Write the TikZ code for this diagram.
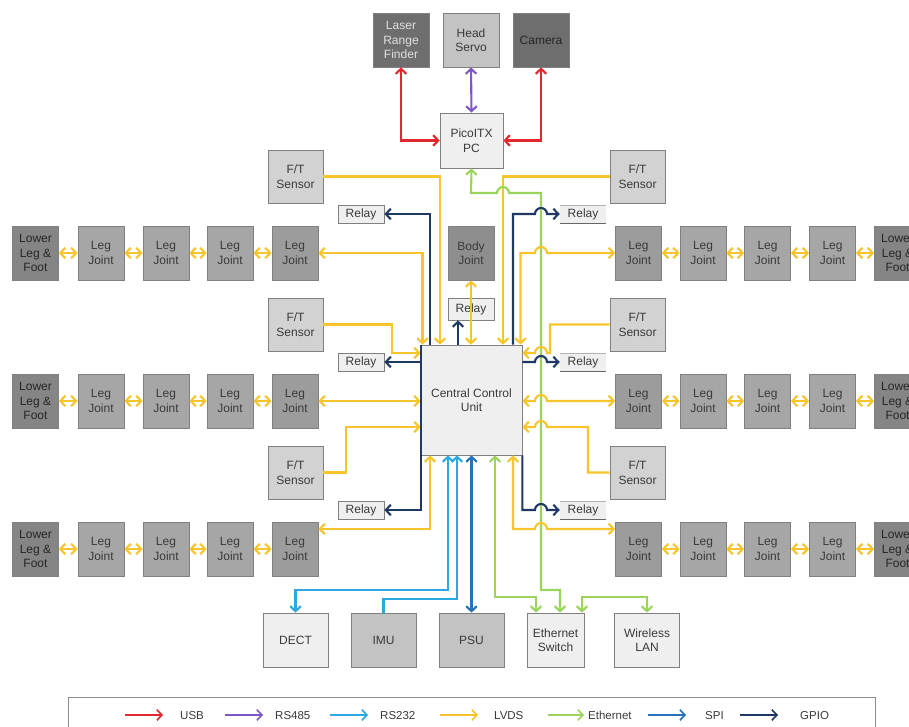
\documentclass[tikz,border=0pt]{standalone}
\usepackage{fontspec}
\setmainfont{Liberation Sans}
\usetikzlibrary{arrows.meta}

\definecolor{cUSB}{HTML}{E0282E}
\definecolor{cRSfour}{HTML}{7E57C2}
\definecolor{cRStwo}{HTML}{2BA9E0}
\definecolor{cLVDS}{HTML}{F7C52B}
\definecolor{cEth}{HTML}{9BD45A}
\definecolor{cSPI}{HTML}{2673B8}
\definecolor{cGPIO}{HTML}{1F3864}
\definecolor{txt}{HTML}{3A3A3A}
\definecolor{fDark}{HTML}{6E6E6E}
\definecolor{fMid}{HTML}{C3C3C3}
\definecolor{fLight}{HTML}{EFEFEF}
\definecolor{fSensor}{HTML}{D2D2D2}
\definecolor{fJoint}{HTML}{A6A6A6}
\definecolor{fJointIn}{HTML}{9C9C9C}
\definecolor{fLower}{HTML}{858585}
\definecolor{fBody}{HTML}{8E8E8E}

\newcommand\boxfont{\fontsize{12}{14.5}\selectfont}
\newcommand\legfont{\fontsize{11.5}{13}\selectfont}

\tikzset{
  box/.style={draw=black!50, line width=0.7pt, align=center, font=\boxfont,
    text=txt, inner sep=0pt, minimum width=46pt, minimum height=54pt},
  relaybox/.style={box, fill=fLight, minimum height=18pt},
  relayopen/.style={align=center, font=\boxfont, text=txt, inner sep=0pt,
    fill=fLight, minimum width=46pt, minimum height=18pt},
  wire/.style={line width=2.1pt},
  usb/.style={wire, draw=cUSB},
  rsfour/.style={wire, draw=cRSfour},
  rstwo/.style={wire, draw=cRStwo},
  lvds/.style={wire, draw=cLVDS},
  eth/.style={wire, draw=cEth},
  spi/.style={wire, draw=cSPI},
  gpio/.style={wire, draw=cGPIO},
  legtext/.style={font=\legfont, text=txt, anchor=base west, inner sep=0pt},
}

\begin{document}
\begin{tikzpicture}[x=1pt, y=-1pt, >={Straight Barb[length=5pt,width=10.5pt]}]
\useasboundingbox (0,0) rectangle (909,726);
\fill[white] (0,0) rectangle (909,726);
\clip (0,0) rectangle (909,726);

% ---------- head ----------
\node[box, fill=fDark, minimum width=56pt, text=black!12] (laser) at (401,40) {Laser\\Range\\Finder};
\node[box, fill=fMid, minimum width=56pt] (servo) at (471,40) {Head\\Servo};
\node[box, fill=fDark, minimum width=56pt, text=black!85] (camera) at (541,40) {Camera};
\node[box, fill=fLight, minimum width=63pt, minimum height=55pt] (pc) at (471.5,140.5) {PicoITX\\PC};

% ---------- central unit ----------
\node[box, fill=fLight, minimum width=101pt, minimum height=110pt] (ccu) at (471.5,400) {Central Control\\Unit};

% ---------- force/torque sensors ----------
\node[box, fill=fSensor, minimum width=55pt, minimum height=53pt] (ftLa) at (295.5,176.5) {F/T\\Sensor};
\node[box, fill=fSensor, minimum width=55pt, minimum height=53pt] (ftLb) at (295.5,324.5) {F/T\\Sensor};
\node[box, fill=fSensor, minimum width=55pt, minimum height=53pt] (ftLc) at (295.5,472.5) {F/T\\Sensor};
\node[box, fill=fSensor, minimum width=55pt, minimum height=53pt] (ftRa) at (637.5,176.5) {F/T\\Sensor};
\node[box, fill=fSensor, minimum width=55pt, minimum height=53pt] (ftRb) at (637.5,324.5) {F/T\\Sensor};
\node[box, fill=fSensor, minimum width=55pt, minimum height=53pt] (ftRc) at (637.5,472.5) {F/T\\Sensor};

% ---------- body joint and relays ----------
\node[box, fill=fBody] (body) at (471,253) {Body\\Joint};
\node[relaybox, minimum height=22pt] (relC) at (471,309) {Relay};
\node[relaybox] (relLa) at (361,214) {Relay};
\node[relaybox] (relLb) at (361,362) {Relay};
\node[relaybox] (relLc) at (361,510) {Relay};
\node[relayopen] (relRa) at (583,214) {Relay};
\node[relayopen] (relRb) at (583,362) {Relay};
\node[relayopen] (relRc) at (583,510) {Relay};
\foreach \n in {relRa,relRb,relRc}{
  \draw[black!30, line width=0.6pt] (\n.north west) -- (\n.north east);
  \draw[black!60, line width=0.8pt] (\n.south west) -- (\n.south east);
}

% ---------- legs ----------
\foreach \r/\y in {1/253,2/401,3/549}{
  \node[box, fill=fLower, text=black!85] (lowL\r) at (35.5,\y) {Lower\\Leg \&\\Foot};
  \node[box, fill=fJoint] (jLa\r) at (101,\y) {Leg\\Joint};
  \node[box, fill=fJoint] (jLb\r) at (166,\y) {Leg\\Joint};
  \node[box, fill=fJoint] (jLc\r) at (230,\y) {Leg\\Joint};
  \node[box, fill=fJointIn] (jLd\r) at (295,\y) {Leg\\Joint};
  \node[box, fill=fJointIn] (jRd\r) at (638.5,\y) {Leg\\Joint};
  \node[box, fill=fJoint] (jRc\r) at (703,\y) {Leg\\Joint};
  \node[box, fill=fJoint] (jRb\r) at (767.5,\y) {Leg\\Joint};
  \node[box, fill=fJoint] (jRa\r) at (832.5,\y) {Leg\\Joint};
  \node[box, fill=fLower, text=black!85] (lowR\r) at (897.5,\y) {Lower\\Leg \&\\Foot};
  \draw[lvds,<->] (lowL\r) -- (jLa\r);
  \draw[lvds,<->] (jLa\r) -- (jLb\r);
  \draw[lvds,<->] (jLb\r) -- (jLc\r);
  \draw[lvds,<->] (jLc\r) -- (jLd\r);
  \draw[lvds,<->] (jRd\r) -- (jRc\r);
  \draw[lvds,<->] (jRc\r) -- (jRb\r);
  \draw[lvds,<->] (jRb\r) -- (jRa\r);
  \draw[lvds,<->] (jRa\r) -- (lowR\r);
}

% ---------- bottom devices ----------
\node[box, fill=fLight, minimum width=65pt] (dect) at (295.5,640) {DECT};
\node[box, fill=fMid, minimum width=65pt] (imu) at (383.5,640) {IMU};
\node[box, fill=fMid, minimum width=65pt] (psu) at (471.5,640) {PSU};
\node[box, fill=fLight, minimum width=57pt] (switch) at (555.5,640) {Ethernet\\Switch};
\node[box, fill=fLight, minimum width=65pt] (wlan) at (647,640) {Wireless\\LAN};

% ---------- head links ----------
\draw[usb,<->] (laser.south) |- (pc.west);
\draw[usb,<->] (camera.south) |- (pc.east);
\draw[rsfour,<->] (servo.south) -- (pc.north);

% ---------- links above the central unit ----------
\draw[lvds,->] (ftLa.east) -| (ccu.north -| 440,0);
\draw[gpio,->] (ccu.north -| 430,0) |- (relLa.east);
\draw[lvds,<->] (jLd1.east) -| (ccu.north -| 422.5,0);
\draw[lvds,<->] (body.south) -- (ccu.north -| body.south);
\draw[gpio,->] (ccu.north -| 458,0) -- (relC.south -| 458,0);
\draw[lvds,->] (ftRa.west) -| (ccu.north -| 503,0);

% ethernet from the PC to the switch, hopping the sensor line
\draw[eth,<->] (pc.south) -- (471,193) -- (497,193)
  arc[start angle=180, end angle=0, radius=6pt] -- (541,193) -- (541,590)
  -| (switch.north -| 560,0);

\draw[gpio,->] (ccu.north -| 513,0) |- (535,214)
  arc[start angle=180, end angle=0, radius=6pt] -- (relRa.west);
\draw[lvds,<->] (ccu.north -| 520.5,0) |- (535,253)
  arc[start angle=180, end angle=0, radius=6pt] -- (jRd1.west);

% ---------- links at the sides ----------
\draw[lvds,->] (ftLb.east) -| (392,353) -- (ccu.west |- 0,353);
\draw[gpio,->] (ccu.west |- 0,362) -- (relLb.east);
\draw[lvds,<->] (jLd2.east) -- (ccu.west |- jLd2.east);
\draw[lvds,->] (ftLc.east) -| (346,427) -- (ccu.west |- 0,427);
\draw[gpio,->] (ccu.north west) |- (relLc.east);

\draw[lvds,->] (ftRb.west) -| (550,353) -- (547,353)
  arc[start angle=0, end angle=180, radius=6pt] -- (ccu.east |- 0,353);
\draw[gpio,->] (ccu.east |- 0,362) -- (535,362)
  arc[start angle=180, end angle=0, radius=6pt] -- (relRb.west);
\draw[lvds,<->] (ccu.east |- jRd2.west) -- (535,401)
  arc[start angle=180, end angle=0, radius=6pt] -- (jRd2.west);
\draw[lvds,->] (ftRc.west) -| (588,427) -- (547,427)
  arc[start angle=0, end angle=180, radius=6pt] -- (ccu.east |- 0,427);

% ---------- links below the central unit ----------
\draw[lvds,<->] (ccu.south -| 430,0) |- (jLd3.east |- 0,529);
\draw[gpio,->] (ccu.south east) |- (535,510)
  arc[start angle=180, end angle=0, radius=6pt] -- (relRc.west);
\draw[lvds,<->] (ccu.south -| 513,0) |- (535,529)
  arc[start angle=180, end angle=0, radius=6pt] -- (jRd3.west |- 0,529);

\draw[rstwo,<->] (ccu.south -| 448,0) -- (448,590) -| (dect.north);
\draw[rstwo,<-] (ccu.south -| 457,0) -- (457,599) -| (imu.north);
\draw[spi,<->] (ccu.south) -- (psu.north);
\draw[eth,<->] (ccu.south -| 495,0) -- (495,597) -| (switch.north -| 536,0);
\draw[eth,<->] (switch.north -| 582,0) -- (582,597) -| (wlan.north);

% ---------- legend ----------
\draw[black!45, line width=0.8pt] (68,697) rectangle (875,760);
\foreach \xa/\xb/\xt/\sty/\lab/\nm in {125/163/180/usb/USB/lgA, 225/263/275/rsfour/RS485/lgB,
    330/368/380/rstwo/RS232/lgC, 440/478/494/lvds/LVDS/lgD, 548/584/588/eth/Ethernet/lgE,
    648/686/705/spi/SPI/lgF, 740/778/800/gpio/GPIO/lgG}{
  \coordinate (\nm s) at (\xa,715);
  \coordinate (\nm e) at (\xb,715);
  \node[legtext] (\nm) at (\xt,719.5) {\lab};
  \draw[\sty, line width=1.6pt, ->] (\nm s) -- (\nm e);
}
\end{tikzpicture}
\end{document}
